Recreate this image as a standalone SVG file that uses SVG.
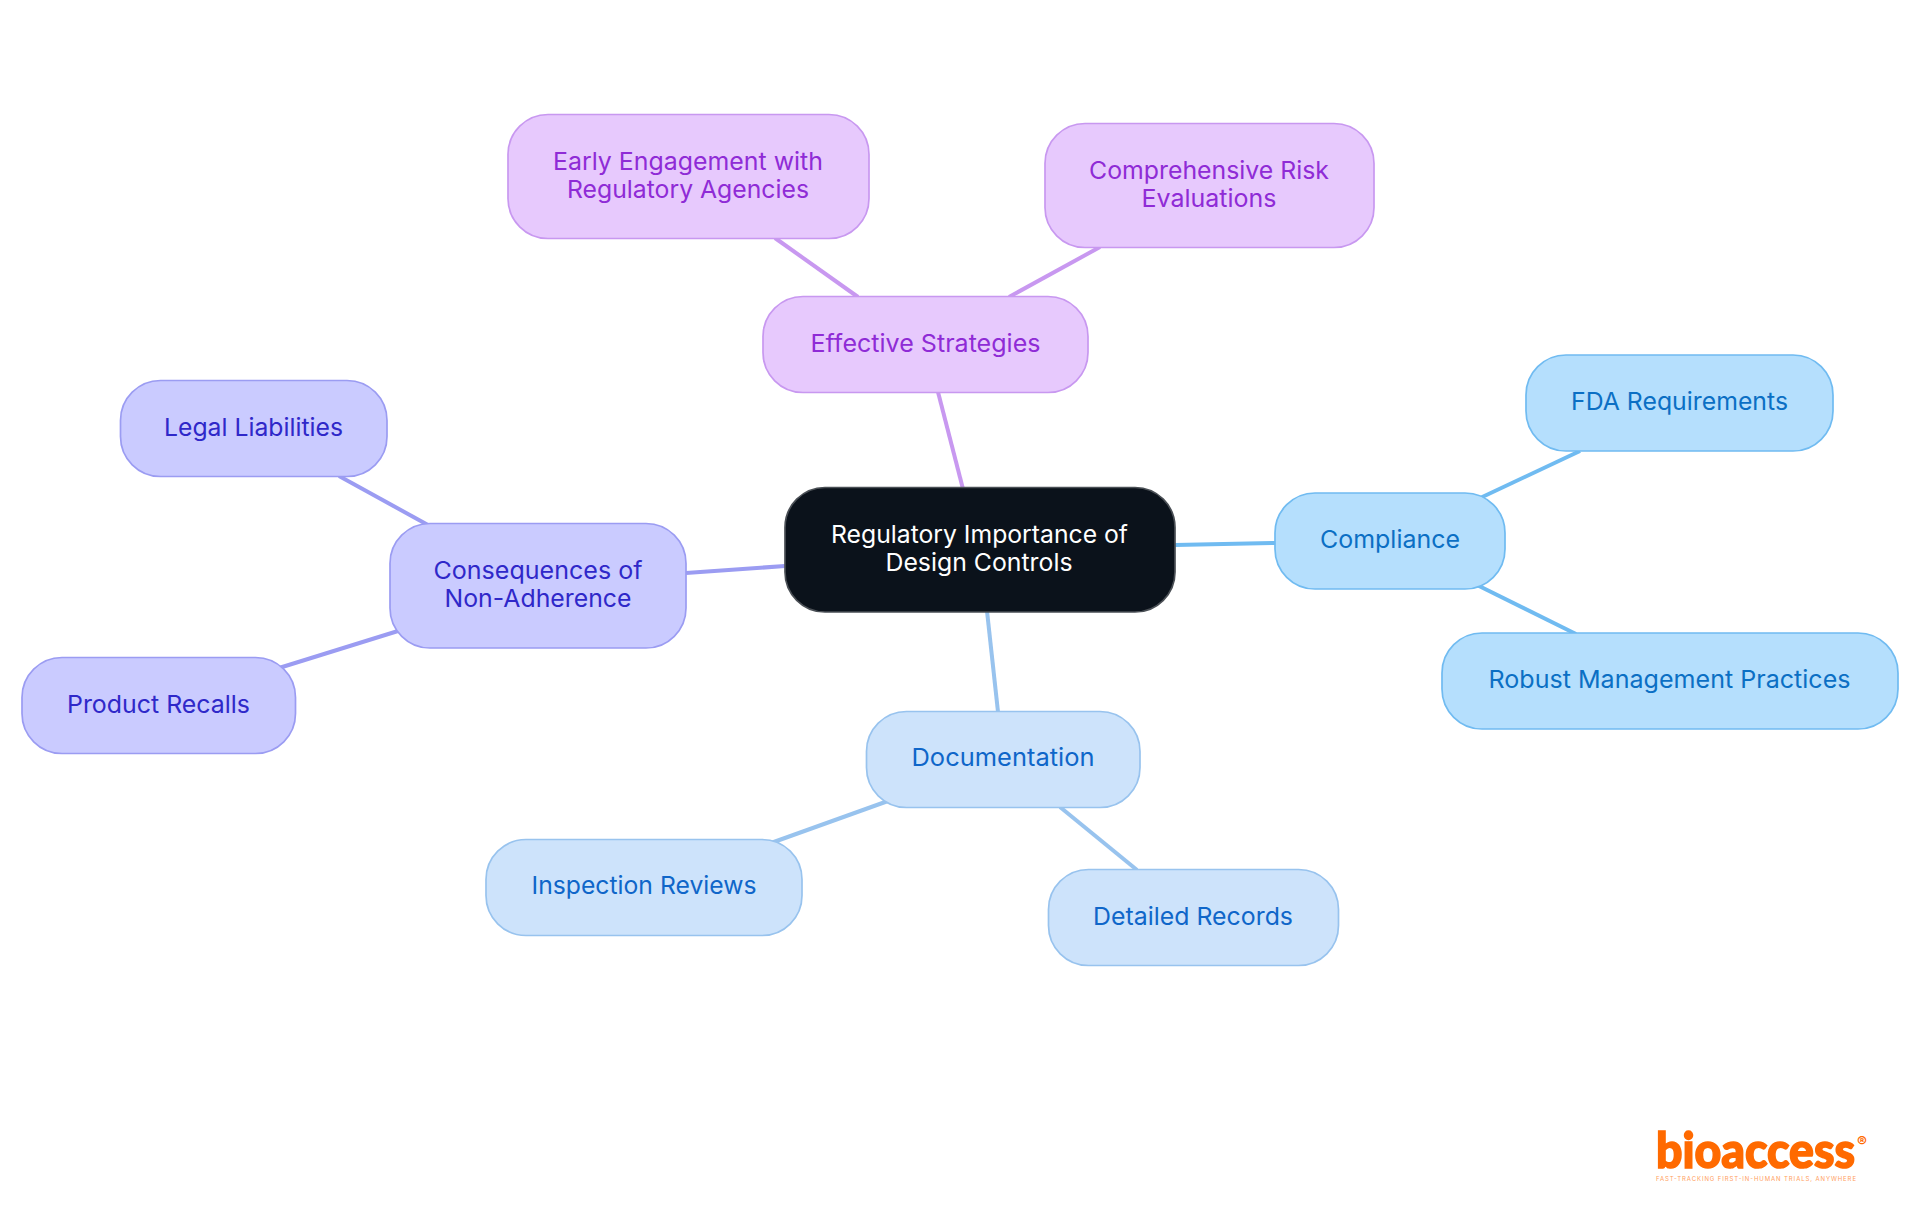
<svg xmlns="http://www.w3.org/2000/svg" width="1920" height="1215" viewBox="0 0 1920 1215">
<style>
text{font-family:"Inter","Noto Sans","Liberation Sans",sans-serif;font-size:24.5px;font-weight:400;text-anchor:middle}
.n rect{stroke-width:1.7}
#connectors line{stroke-width:4;fill:none}
.blue rect{fill:#b5dffd;stroke:#70bbf1}.blue text{fill:#0b6fc4}
.sky rect{fill:#cde3fb;stroke:#98c3ee}.sky text{fill:#0f66c9}
.ind rect{fill:#cacbff;stroke:#9b9cf2}.ind text{fill:#2f28c9}
.pur rect{fill:#e7c9fd;stroke:#c898f0}.pur text{fill:#8f2bd6}
</style>
<rect width="1920" height="1215" fill="#fff"/>
<g id="connectors">
<line x1="963" y1="489" x2="938" y2="392" stroke="#c898f0"/>
<line x1="858" y1="297" x2="775" y2="238" stroke="#c898f0"/>
<line x1="1009" y1="297" x2="1100" y2="247" stroke="#c898f0"/>
<line x1="1175" y1="545" x2="1276" y2="543" stroke="#70bbf1"/>
<line x1="1478" y1="499" x2="1580" y2="451" stroke="#70bbf1"/>
<line x1="1475" y1="584" x2="1576" y2="634" stroke="#70bbf1"/>
<line x1="987" y1="611" x2="998" y2="712" stroke="#98c3ee"/>
<line x1="888" y1="801" x2="771" y2="843" stroke="#98c3ee"/>
<line x1="1060" y1="807" x2="1137" y2="870" stroke="#98c3ee"/>
<line x1="785" y1="566" x2="686" y2="573" stroke="#9b9cf2"/>
<line x1="428" y1="525" x2="339" y2="476" stroke="#9b9cf2"/>
<line x1="398" y1="631" x2="279" y2="668" stroke="#9b9cf2"/>
</g>
<g id="center"><rect x="785" y="487.5" width="390" height="124.5" rx="40" fill="#0b121b" stroke="#4a4f55" stroke-width="1.7"/><text x="979.5" y="543" fill="#fff" textLength="297" lengthAdjust="spacingAndGlyphs">Regulatory Importance of</text><text x="979" y="571" fill="#fff" textLength="187" lengthAdjust="spacingAndGlyphs">Design Controls</text></g>
<g id="strategies" class="n pur"><rect x="763" y="296.5" width="325" height="96" rx="40"/><text x="925.5" y="352" textLength="230" lengthAdjust="spacingAndGlyphs">Effective Strategies</text></g>
<g id="early" class="n pur"><rect x="508" y="114.5" width="361" height="124" rx="40"/><text x="688" y="170" textLength="270" lengthAdjust="spacingAndGlyphs">Early Engagement with</text><text x="688" y="198" textLength="242" lengthAdjust="spacingAndGlyphs">Regulatory Agencies</text></g>
<g id="risk" class="n pur"><rect x="1045" y="123.5" width="329" height="124" rx="40"/><text x="1209" y="179" textLength="240" lengthAdjust="spacingAndGlyphs">Comprehensive Risk</text><text x="1209" y="207" textLength="135" lengthAdjust="spacingAndGlyphs">Evaluations</text></g>
<g id="compliance" class="n blue"><rect x="1275" y="493" width="230" height="96" rx="40"/><text x="1390" y="548" textLength="140" lengthAdjust="spacingAndGlyphs">Compliance</text></g>
<g id="fda" class="n blue"><rect x="1526" y="355" width="307" height="96" rx="40"/><text x="1679.5" y="410" textLength="217" lengthAdjust="spacingAndGlyphs">FDA Requirements</text></g>
<g id="robust" class="n blue"><rect x="1442" y="633" width="456" height="96" rx="40"/><text x="1669.5" y="688" textLength="362" lengthAdjust="spacingAndGlyphs">Robust Management Practices</text></g>
<g id="documentation" class="n sky"><rect x="866.5" y="711.5" width="273.5" height="96" rx="40"/><text x="1003" y="766" textLength="183" lengthAdjust="spacingAndGlyphs">Documentation</text></g>
<g id="inspection" class="n sky"><rect x="486" y="839.5" width="316" height="96" rx="40"/><text x="644" y="894" textLength="225" lengthAdjust="spacingAndGlyphs">Inspection Reviews</text></g>
<g id="records" class="n sky"><rect x="1048.5" y="869.5" width="290" height="96" rx="40"/><text x="1193" y="925" textLength="200" lengthAdjust="spacingAndGlyphs">Detailed Records</text></g>
<g id="consequences" class="n ind"><rect x="390" y="523.5" width="296" height="124.5" rx="40"/><text x="538" y="578.5" textLength="209" lengthAdjust="spacingAndGlyphs">Consequences of</text><text x="538" y="606.5" textLength="187" lengthAdjust="spacingAndGlyphs">Non-Adherence</text></g>
<g id="legal" class="n ind"><rect x="120.5" y="380.5" width="266.5" height="96" rx="40"/><text x="253.5" y="435.5" textLength="179" lengthAdjust="spacingAndGlyphs">Legal Liabilities</text></g>
<g id="recalls" class="n ind"><rect x="22" y="657.5" width="273.5" height="96" rx="40"/><text x="158.5" y="712.5" textLength="183" lengthAdjust="spacingAndGlyphs">Product Recalls</text></g>
<g id="logo"><text x="1755.5" y="1168" style="font-family:Lato,'Inter',sans-serif;font-size:50px;font-weight:900;fill:#ff6a00;stroke:#ff6a00;stroke-width:1.6" textLength="199" lengthAdjust="spacingAndGlyphs">bioaccess</text><text x="1862" y="1147" style="font-size:15px;font-weight:700;fill:#ff6a00">®</text><text x="1756" y="1181" style="font-size:6px;fill:#ffa060" textLength="200">FAST-TRACKING FIRST-IN-HUMAN TRIALS, ANYWHERE</text></g>
</svg>
